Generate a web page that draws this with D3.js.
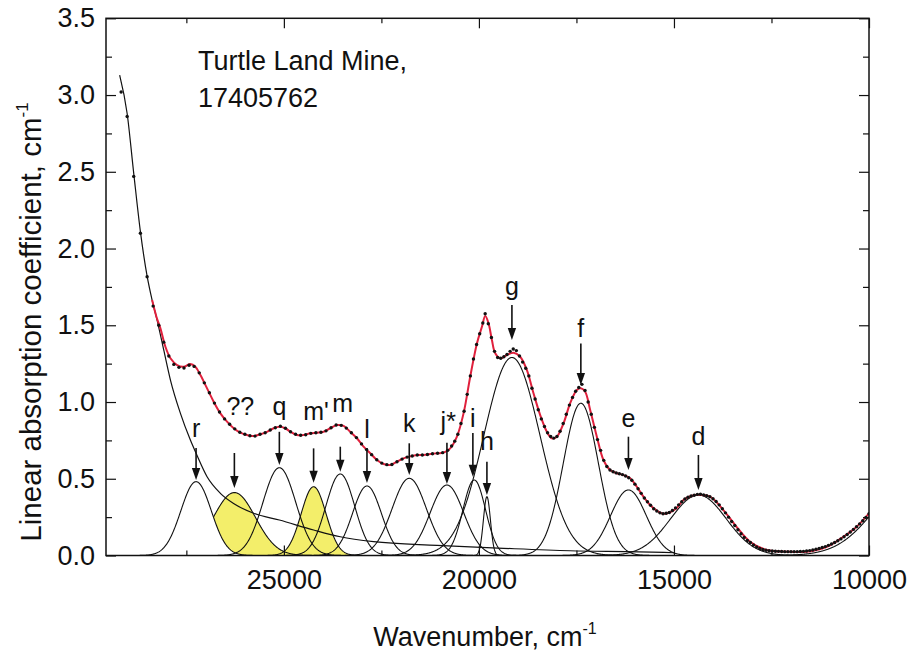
<!DOCTYPE html>
<html>
<head>
<meta charset="utf-8">
<script src="https://cdn.jsdelivr.net/npm/d3@7"></script>
<style>
  body { margin: 0; background: #fff; }
  svg text { font-family: "Liberation Sans", Arial, Helvetica, sans-serif; fill: #111; }
</style>
</head>
<body>
<svg id="chart" width="912" height="655"></svg>
<script>
// Measured absorption spectrum (wavenumber cm^-1, absorption coefficient cm^-1)
const measured = [
  [29172,3.02],[29018,2.86],[28849,2.47],[28678,2.10],[28506,1.816],[28352,1.625],[28208,1.50],
  [28080,1.39],[27950,1.30],[27820,1.245],[27690,1.226],[27560,1.222],[27430,1.240],[27300,1.232],
  [27170,1.19],[27040,1.125],[26910,1.06],[26780,0.993],[26650,0.935],[26520,0.89],[26390,0.855],
  [26260,0.825],[26130,0.803],[26000,0.79],[25870,0.78],[25740,0.778],[25610,0.79],[25480,0.80],
  [25350,0.818],[25220,0.832],[25090,0.842],[24960,0.829],[24830,0.806],[24700,0.79],[24570,0.783],
  [24440,0.787],[24310,0.796],[24180,0.800],[24050,0.803],[23920,0.812],[23790,0.832],[23660,0.850],
  [23530,0.848],[23400,0.830],[23270,0.800],[23140,0.768],[23010,0.727],[22880,0.690],[22750,0.657],
  [22620,0.624],[22490,0.602],[22360,0.592],[22230,0.593],[22100,0.611],[21970,0.628],[21840,0.641],
  [21710,0.648],[21580,0.655],[21450,0.655],[21320,0.658],[21190,0.663],[21060,0.666],[20930,0.670],
  [20800,0.685],[20700,0.713],[20620,0.745],[20540,0.79],[20460,0.86],[20380,0.94],[20300,1.05],
  [20220,1.17],[20140,1.28],[20060,1.375],[19980,1.445],[19900,1.515],[19840,1.575],[19760,1.51],
  [19680,1.42],[19600,1.33],[19520,1.29],[19440,1.285],[19360,1.295],[19280,1.31],[19200,1.33],
  [19120,1.345],[19040,1.335],[18960,1.30],[18880,1.26],[18800,1.22],[18720,1.17],[18640,1.09],
  [18560,1.02],[18480,0.95],[18400,0.89],[18320,0.84],[18240,0.80],[18160,0.775],[18080,0.765],
  [18000,0.775],[17920,0.81],[17840,0.86],[17760,0.92],[17680,0.98],[17600,1.03],[17520,1.07],
  [17440,1.095],[17360,1.115],[17280,1.075],[17200,1.00],[17120,0.92],[17040,0.835],[16960,0.755],
  [16880,0.685],[16800,0.62],[16720,0.58],[16640,0.557],[16560,0.546],[16480,0.538],[16400,0.533],
  [16320,0.527],[16240,0.518],[16160,0.507],[16080,0.49],[16000,0.465],[15920,0.435],[15840,0.405],
  [15760,0.375],[15680,0.35],[15600,0.327],[15520,0.305],[15440,0.29],[15360,0.278],[15280,0.272],
  [15200,0.275],[15120,0.28],[15040,0.293],[14960,0.31],[14880,0.33],[14800,0.35],[14720,0.368],
  [14640,0.38],[14560,0.388],[14480,0.393],[14400,0.398],[14320,0.399],[14240,0.395],[14160,0.39],
  [14080,0.383],[14000,0.37],[13920,0.352],[13840,0.33],[13760,0.305],[13680,0.278],[13600,0.25],
  [13520,0.222],[13440,0.195],[13360,0.168],[13280,0.142],[13200,0.118],[13120,0.098],[13040,0.085],
  [12960,0.068],[12880,0.055],[12800,0.046],[12720,0.039],[12640,0.034],[12560,0.031],[12480,0.029],
  [12400,0.028],[12320,0.027],[12240,0.026],[12160,0.025],[12080,0.025],[12000,0.025],[11920,0.025],
  [11840,0.025],[11760,0.026],[11680,0.027],[11600,0.029],[11520,0.032],[11440,0.036],[11360,0.041],
  [11280,0.046],[11200,0.052],[11120,0.058],[11040,0.066],[10960,0.075],[10880,0.085],[10800,0.096],
  [10720,0.108],[10640,0.122],[10560,0.137],[10480,0.153],[10400,0.17],[10320,0.188],[10240,0.206],
  [10160,0.226],[10080,0.248],[10000,0.272]
];

// Fitted total (sum of bands + background)
const fitted = [
  [28378,1.664],[28268,1.556],[28165,1.480],[28037,1.360],[27908,1.285],[27738,1.241],[27568,1.230],
  [27397,1.248],[27269,1.230],[27140,1.176],[26969,1.089],[26800,1.002],[26628,0.926],[26457,0.872],
  [26287,0.829],[26115,0.800],[25944,0.785],[25775,0.778],[25603,0.790],[25432,0.806],[25262,0.829],
  [25116,0.839],[24963,0.829],[24834,0.806],[24663,0.785],[24494,0.785],[24322,0.796],[24151,0.800],
  [23981,0.806],[23810,0.829],[23638,0.850],[23469,0.844],[23298,0.806],[23126,0.764],[22957,0.709],
  [22785,0.666],[22613,0.622],[22444,0.596],[22273,0.590],[22101,0.611],[21932,0.633],[21786,0.644],
  [21589,0.655],[21419,0.655],[21248,0.661],[21076,0.666],[20907,0.670],[20735,0.698],[20564,0.774],
  [20394,0.926],[20223,1.165],[20051,1.382],[19923,1.490],[19838,1.560],[19754,1.513],[19667,1.404],
  [19582,1.317],[19454,1.285],[19283,1.306],[19113,1.321],[18942,1.295],[18770,1.208],[18601,1.057],
  [18429,0.915],[18258,0.806],[18130,0.763],[18002,0.774],[17831,0.861],[17661,0.992],[17489,1.078],
  [17387,1.089],[17276,1.067],[17148,0.948],[16977,0.774],[16807,0.622],[16636,0.557],[16464,0.536],
  [16295,0.524],[16124,0.503],[15952,0.448],[15783,0.383],[15611,0.329],[15439,0.292],[15270,0.272],
  [15099,0.282],[14930,0.31],[14758,0.362],[14560,0.388],[14373,0.396],[14074,0.383],[13733,0.296],
  [13390,0.185],[13049,0.090],[12621,0.036],[12109,0.025],[11597,0.025],[11084,0.057],[10658,0.122],
  [10315,0.188],[10000,0.275]
];

// UV absorption edge background
const background = [
  [29210,3.13],[29018,2.88],[28849,2.49],[28678,2.11],[28506,1.82],[28378,1.664],[28250,1.534],
  [28080,1.339],[27908,1.143],[27652,0.926],[27397,0.752],[27251,0.666],[26969,0.513],[26628,0.405],
  [26269,0.336],[25775,0.275],[25116,0.231],[24238,0.166],[23554,0.122],[22700,0.090],[21076,0.066],
  [19370,0.047],[17661,0.031],[15900,0.024],[15000,0.018]
];

// Gaussian band components
const bandNames   = ["r", "??", "q", "m'", "m", "l", "k", "j*", "i", "h", "g", "f", "e", "d", "c"];
const bandCenter  = [27251, 26269, 25116, 24238, 23554, 22870, 21786, 20820, 20120, 19795, 19154, 17387, 16167, 14373, 8800];
const bandHeight  = [0.481, 0.410, 0.572, 0.448, 0.531, 0.453, 0.503, 0.459, 0.492, 0.383, 1.290, 0.992, 0.427, 0.394, 0.52];
const bandSigma   = [390, 540, 420, 320, 370, 370, 440, 430, 290, 90, 720, 450, 460, 715, 1000];
// shaded bands; "??" is only resolved where it rises above band r
const shadedBand  = ["??", "m'"];
const shadedUnder = ["r", null];

// Peak markers: label, arrow position, arrow start/end and label baseline (absorption units)
const markLabel  = ["r", "??", "q", "m'", "m", "l", "k", "j*", "i", "h", "g", "f", "e", "d"];
const markWn     = [27251, 26269, 25116, 24238, 23554, 22870, 21786, 20820, 20155, 19795, 19154, 17387, 16167, 14373];
const markLabelWn= [27251, 26116, 25116, 24177, 23495, 22870, 21786, 20786, 20155, 19795, 19154, 17387, 16167, 14373];
const markFrom   = [0.700, 0.668, 0.806, 0.698, 0.709, 0.700, 0.731, 0.735, 0.798, 0.611, 1.632, 1.382, 0.774, 0.655];
const markTo     = [0.492, 0.440, 0.590, 0.474, 0.546, 0.472, 0.524, 0.466, 0.513, 0.394, 1.404, 1.111, 0.557, 0.427];
const markText   = [0.772, 0.915, 0.915, 0.883, 0.936, 0.765, 0.806, 0.818, 0.839, 0.687, 1.697, 1.425, 0.839, 0.720];

const xMajor = [25000, 20000, 15000, 10000];
const xMinor = [27500, 22500, 17500, 12500];
const yMajor = [0, 0.5, 1.0, 1.5, 2.0, 2.5, 3.0, 3.5];
const yMinor = [0.25, 0.75, 1.25, 1.75, 2.25, 2.75, 3.25];

const sampleLine = ["Turtle Land Mine,", "17405762"];

// ---- layout ----
const plot = { left: 106, right: 869, top: 18.3, bottom: 555.5 };

const x = d3.scaleLinear().domain([29560, 10000]).range([plot.left, plot.right]);
const y = d3.scaleLinear().domain([0, 3.5]).range([plot.bottom, plot.top]);

const svg = d3.select("#chart");

svg.append("defs").append("clipPath").attr("id", "plot-clip")
  .append("rect")
  .attr("x", plot.left).attr("y", plot.top)
  .attr("width", plot.right - plot.left).attr("height", plot.bottom - plot.top);

const body = svg.append("g").attr("clip-path", "url(#plot-clip)");

const gauss = (i, wn) => bandHeight[i] * Math.exp(-((wn - bandCenter[i]) ** 2) / (2 * bandSigma[i] ** 2));
const wnGrid = d3.range(29560, 9990, -10);

// visible part of each band: for "??" only where it lies above its neighbour
const bandPoints = i => {
  const s = shadedBand.indexOf(bandNames[i]);
  const j = s >= 0 && shadedUnder[s] ? bandNames.indexOf(shadedUnder[s]) : -1;
  return wnGrid
    .map(w => [w, gauss(i, w), j >= 0 ? gauss(j, w) : 0])
    .filter(p => j < 0 || p[0] < bandCenter[i] && p[1] >= p[2] || p[0] >= bandCenter[i] && p[1] >= p[2]);
};

// shaded fills
shadedBand.forEach(name => {
  const i = bandNames.indexOf(name);
  const pts = bandPoints(i).filter(p => p[1] > 0.0015);
  body.append("path").datum(pts)
    .attr("d", d3.area().x(d => x(d[0])).y0(d => y(d[2])).y1(d => y(d[1])))
    .attr("fill", "#f3ee6a");
});

// band outlines
bandNames.forEach((name, i) => {
  body.append("path").datum(bandPoints(i))
    .attr("d", d3.line().x(d => x(d[0])).y(d => y(d[1])))
    .attr("fill", "none")
    .attr("stroke", "#111")
    .attr("stroke-width", 1.1);
});

// background
body.append("path").datum(background)
  .attr("d", d3.line().x(d => x(d[0])).y(d => y(d[1])).curve(d3.curveMonotoneX))
  .attr("fill", "none").attr("stroke", "#111").attr("stroke-width", 1.2);

// fitted total
body.append("path").datum(fitted)
  .attr("d", d3.line().x(d => x(d[0])).y(d => y(d[1])).curve(d3.curveCatmullRom.alpha(0.5)))
  .attr("fill", "none").attr("stroke", "#e0203c").attr("stroke-width", 2);

// measured points
body.append("g").selectAll("circle").data(measured).join("circle")
  .attr("cx", d => x(d[0])).attr("cy", d => y(d[1])).attr("r", 1.7)
  .attr("fill", "#111");

// ---- axes ----
const styleAxis = g => {
  g.select(".domain").remove();
  g.selectAll(".tick line").attr("stroke", "#111").attr("stroke-width", 1.2);
  g.selectAll(".tick text").attr("font-size", 27).attr("fill", "#111");
};

svg.append("g").attr("transform", `translate(0,${plot.bottom})`)
  .call(d3.axisBottom(x).tickValues(xMajor).tickSize(-10).tickSizeOuter(0).tickPadding(14).tickFormat(d3.format("d")))
  .call(styleAxis);
svg.append("g").attr("transform", `translate(0,${plot.bottom})`)
  .call(d3.axisBottom(x).tickValues(xMinor).tickSize(-5).tickSizeOuter(0).tickFormat(""))
  .call(styleAxis);
svg.append("g").attr("transform", `translate(0,${plot.top})`)
  .call(d3.axisTop(x).tickValues(xMajor).tickSize(-10).tickSizeOuter(0).tickFormat(""))
  .call(styleAxis);
svg.append("g").attr("transform", `translate(0,${plot.top})`)
  .call(d3.axisTop(x).tickValues(xMinor).tickSize(-5).tickSizeOuter(0).tickFormat(""))
  .call(styleAxis);

svg.append("g").attr("transform", `translate(${plot.left},0)`)
  .call(d3.axisLeft(y).tickValues(yMajor).tickSize(-10).tickSizeOuter(0).tickPadding(11).tickFormat(d3.format(".1f")))
  .call(styleAxis);
svg.append("g").attr("transform", `translate(${plot.left},0)`)
  .call(d3.axisLeft(y).tickValues(yMinor).tickSize(-6).tickSizeOuter(0).tickFormat(""))
  .call(styleAxis);
svg.append("g").attr("transform", `translate(${plot.right},0)`)
  .call(d3.axisRight(y).tickValues(yMajor).tickSize(-10).tickSizeOuter(0).tickFormat(""))
  .call(styleAxis);
svg.append("g").attr("transform", `translate(${plot.right},0)`)
  .call(d3.axisRight(y).tickValues(yMinor).tickSize(-6).tickSizeOuter(0).tickFormat(""))
  .call(styleAxis);

// frame
svg.append("rect")
  .attr("x", plot.left).attr("y", plot.top)
  .attr("width", plot.right - plot.left).attr("height", plot.bottom - plot.top)
  .attr("fill", "none").attr("stroke", "#111").attr("stroke-width", 1.5);

// ---- peak markers ----
const marks = svg.append("g");
markLabel.forEach((lab, i) => {
  const px = x(markWn[i]);
  const y0 = y(markFrom[i]), y1 = y(markTo[i]);
  const head = 12, half = 4.2;
  marks.append("line")
    .attr("x1", px).attr("x2", px).attr("y1", y0).attr("y2", y1 - head + 1)
    .attr("stroke", "#111").attr("stroke-width", 1.6);
  marks.append("path")
    .attr("d", `M${px - half},${y1 - head}L${px + half},${y1 - head}L${px},${y1}Z`)
    .attr("fill", "#111");
  marks.append("text")
    .attr("x", x(markLabelWn[i])).attr("y", y(markText[i]))
    .attr("text-anchor", "middle")
    .attr("font-size", 25)
    .text(lab);
});

// sample annotation
svg.append("g").selectAll("text").data(sampleLine).join("text")
  .attr("x", 198).attr("y", (d, i) => 70 + i * 37)
  .attr("font-size", 27)
  .text(d => d);

// axis titles
const xt = svg.append("text")
  .attr("x", 485).attr("y", 646)
  .attr("text-anchor", "middle")
  .attr("font-size", 27);
xt.append("tspan").text("Wavenumber, cm");
xt.append("tspan").attr("dy", -12).attr("font-size", 16).text("-1");

const yt = svg.append("text")
  .attr("transform", "translate(41,322) rotate(-90)")
  .attr("text-anchor", "middle")
  .attr("font-size", 29.5);
yt.append("tspan").text("Linear absorption coefficient, cm");
yt.append("tspan").attr("dy", -13).attr("font-size", 17).text("-1");
</script>
</body>
</html>
